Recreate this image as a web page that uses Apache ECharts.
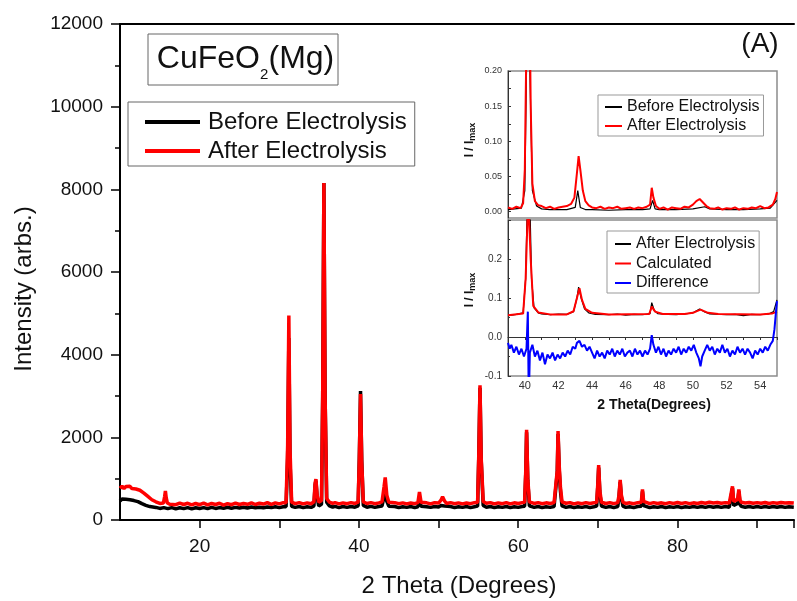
<!DOCTYPE html>
<html>
<head>
<meta charset="utf-8">
<script src="https://cdn.jsdelivr.net/npm/echarts@6/dist/echarts.min.js"></script>
<style>
  html, body { margin: 0; padding: 0; background: #fff; }
</style>
</head>
<body>
<div id="xrd" style="width:797px;height:601px;"></div>
<script>
  // main pattern, [2theta, counts]
  var beforeData = [
    [10,460],[10.25,510],[10.5,470],[10.75,500],[11,455],[11.25,490],[11.5,445],[11.75,470],[12,425],[12.25,445],
    [12.5,400],[12.75,395],[13,360],[13.25,355],[13.5,330],[13.75,325],[14,300],[14.5,305],[15,280],[15.5,300],
    [16,275],[16.5,300],[17,270],[17.5,295],[18,275],[18.5,300],[19,270],[19.5,295],[20,280],[20.5,300],
    [21,275],[21.5,305],[22,280],[22.5,300],[23,285],[23.5,310],[24,285],[24.5,305],[25,290],[25.5,310],
    [26,290],[26.5,315],[27,295],[27.5,310],[28,295],[28.5,315],[29,300],[29.5,320],[30,300],[30.5,320],
    [30.85,320],[31.05,1500],[31.2,4400],[31.35,1400],[31.55,330],[32,305],[32.5,325],[33,300],[33.5,320],[34,305],
    [34.35,340],[34.5,850],[34.6,950],[34.75,560],[34.95,340],[35.3,380],[35.45,3000],[35.6,8150],[35.75,3000],[35.95,430],
    [36.3,340],[36.7,310],[37,330],[37.5,300],[38,325],[38.5,305],[39,325],[39.5,310],[39.9,340],[40.05,1500],
    [40.2,3120],[40.35,1450],[40.55,350],[41,310],[41.5,330],[42,305],[42.5,325],[42.9,340],[43.15,560],[43.3,700],
    [43.5,450],[43.75,335],[44,305],[44.5,325],[45,300],[45.5,320],[46,305],[46.5,325],[47,300],[47.4,320],
    [47.6,520],[47.8,330],[48,300],[48.5,320],[49,305],[49.5,325],[50,315],[50.3,350],[50.5,390],[50.75,340],
    [51,305],[51.5,325],[52,300],[52.5,320],[53,305],[53.5,325],[54,300],[54.5,320],[54.9,335],[55.05,1550],
    [55.2,3200],[55.35,1450],[55.6,350],[56,310],[56.5,325],[57,300],[57.5,320],[58,305],[58.5,325],[59,300],
    [59.5,320],[60,305],[60.5,325],[60.8,335],[60.95,1150],[61.05,2120],[61.2,950],[61.4,340],[62,305],[62.5,325],
    [63,300],[63.5,320],[64,305],[64.5,325],[64.75,350],[64.9,1150],[65,2080],[65.15,1200],[65.3,700],[65.5,340],
    [66,305],[66.5,325],[67,300],[67.5,320],[68,305],[68.5,325],[69,300],[69.5,320],[69.85,335],[70,850],
    [70.1,1270],[70.25,650],[70.45,335],[71,305],[71.5,325],[72,300],[72.5,325],[72.65,550],[72.8,920],[72.95,550],
    [73.15,335],[73.5,305],[74,320],[74.5,300],[75,325],[75.45,335],[75.6,690],[75.75,350],[76,310],[76.5,300],
    [77,320],[77.5,305],[78,325],[78.5,300],[79,320],[79.5,305],[80,325],[80.5,300],[81,320],[81.5,305],
    [82,325],[82.5,305],[83,325],[83.5,305],[84,330],[84.5,310],[85,325],[85.5,305],[86,325],[86.5,310],
    [86.75,350],[86.9,770],[87.05,350],[87.3,380],[87.55,400],[87.7,690],[87.85,380],[88,330],[88.5,310],[89,325],
    [89.5,305],[90,325],[90.5,305],[91,325],[91.5,305],[92,325],[92.5,310],[93,325],[93.5,305],[94,320],[94.6,310]
  ];
  var afterData = [
    [10,770],[10.25,820],[10.5,760],[10.75,810],[11,775],[11.25,815],[11.5,760],[11.75,800],[12,750],[12.25,780],
    [12.5,720],[12.75,700],[13,650],[13.25,620],[13.5,570],[13.75,540],[14,490],[14.25,470],[14.5,440],[14.75,430],
    [15,400],[15.25,420],[15.45,410],[15.6,560],[15.7,700],[15.8,540],[15.95,410],[16.25,380],[16.5,420],[17,370],
    [17.5,410],[18,375],[18.5,405],[19,365],[19.5,400],[20,370],[20.5,410],[21,365],[21.5,400],[22,375],
    [22.5,405],[23,360],[23.5,395],[24,370],[24.5,410],[25,375],[25.5,400],[26,380],[26.5,415],[27,375],
    [27.5,405],[28,385],[28.5,420],[29,380],[29.5,415],[30,390],[30.5,420],[30.85,420],[31.05,1800],[31.2,4950],
    [31.35,1700],[31.55,430],[32,395],[32.5,420],[33,390],[33.5,415],[34,395],[34.35,440],[34.5,900],[34.6,990],
    [34.75,600],[34.95,430],[35.3,470],[35.45,3000],[35.6,8150],[35.75,3000],[35.95,520],[36.3,430],[36.7,400],[37,420],
    [37.5,390],[38,415],[38.5,395],[39,420],[39.5,400],[39.9,430],[40.05,1500],[40.2,3050],[40.35,1400],[40.55,440],
    [41,400],[41.5,420],[42,395],[42.5,415],[42.9,440],[43.15,800],[43.3,1030],[43.5,600],[43.75,430],[44,400],
    [44.5,420],[45,395],[45.5,415],[46,390],[46.5,410],[47,395],[47.4,420],[47.6,680],[47.8,430],[48,395],
    [48.5,415],[49,390],[49.5,420],[50,410],[50.3,480],[50.5,560],[50.75,460],[51,400],[51.5,420],[52,395],
    [52.5,415],[53,390],[53.5,410],[54,395],[54.5,420],[54.9,430],[55.05,1600],[55.2,3260],[55.35,1500],[55.6,450],
    [56,405],[56.5,420],[57,390],[57.5,415],[58,395],[58.5,420],[59,390],[59.5,415],[60,400],[60.5,420],
    [60.8,430],[60.95,1200],[61.05,2180],[61.2,1000],[61.4,440],[62,400],[62.5,420],[63,395],[63.5,415],[64,400],
    [64.5,420],[64.75,450],[64.9,1200],[65,2150],[65.15,1300],[65.3,800],[65.5,440],[66,405],[66.5,420],[67,390],
    [67.5,415],[68,395],[68.5,420],[69,400],[69.5,415],[69.85,430],[70,900],[70.1,1330],[70.25,700],[70.45,430],
    [71,400],[71.5,420],[72,395],[72.5,420],[72.65,600],[72.8,970],[72.95,600],[73.15,430],[73.5,400],[74,415],
    [74.5,395],[75,420],[75.45,430],[75.6,740],[75.75,450],[76,410],[76.5,395],[77,420],[77.5,400],[78,415],
    [78.5,395],[79,420],[79.5,400],[80,425],[80.5,400],[81,420],[81.5,395],[82,415],[82.5,400],[83,425],
    [83.5,405],[84,430],[84.5,410],[85,425],[85.5,405],[86,420],[86.5,410],[86.75,450],[86.9,815],[87.05,450],
    [87.3,480],[87.55,500],[87.7,740],[87.85,480],[88,430],[88.5,410],[89,425],[89.5,405],[90,420],[90.5,405],
    [91,425],[91.5,400],[92,420],[92.5,405],[93,425],[93.5,410],[94,420],[94.6,410]
  ];

  // inset, upper panel (normalised)
  var insetBefore = [
    [39,0.003],[39.4,0.004],[39.8,0.005],[40,0.03],[40.1,0.2],[40.2,0.38],[40.3,0.2],[40.45,0.03],
    [40.7,0.008],[41,0.004],[41.5,0.003],[42,0.003],[42.5,0.003],[43,0.006],[43.15,0.03],[43.3,0.006],
    [43.6,0.003],[44,0.003],[45,0.002],[46,0.003],[47,0.003],[47.45,0.004],[47.6,0.016],[47.75,0.004],
    [48,0.003],[49,0.003],[50,0.004],[50.7,0.007],[51,0.004],[52,0.003],[53,0.003],[54,0.004],
    [54.6,0.005],[55,0.016]
  ];
  var insetAfter = [
    [39,0.006],[39.25,0.004],[39.5,0.007],[39.75,0.005],[39.9,0.012],[40,0.06],[40.1,0.25],[40.25,0.38],
    [40.35,0.15],[40.45,0.04],[40.6,0.015],[40.8,0.009],[41,0.008],[41.25,0.005],[41.5,0.007],[41.75,0.004],
    [42,0.006],[42.25,0.007],[42.5,0.008],[42.75,0.011],[42.95,0.02],[43.1,0.055],[43.2,0.079],[43.3,0.06],
    [43.45,0.03],[43.6,0.015],[43.8,0.009],[44,0.006],[44.25,0.005],[44.5,0.007],[44.75,0.004],[45,0.006],
    [45.25,0.005],[45.5,0.007],[45.75,0.004],[46,0.005],[46.25,0.006],[46.5,0.004],[46.75,0.006],[47,0.005],
    [47.25,0.007],[47.45,0.01],[47.55,0.034],[47.65,0.02],[47.8,0.008],[48,0.004],[48.25,0.006],[48.5,0.003],
    [48.75,0.006],[49,0.005],[49.25,0.004],[49.5,0.007],[49.75,0.006],[50,0.01],[50.2,0.015],[50.4,0.018],
    [50.6,0.013],[50.8,0.008],[51,0.005],[51.25,0.004],[51.5,0.006],[51.75,0.003],[52,0.005],[52.25,0.004],
    [52.5,0.006],[52.75,0.003],[53,0.005],[53.25,0.004],[53.5,0.006],[53.75,0.005],[54,0.008],[54.25,0.005],
    [54.5,0.006],[54.75,0.01],[54.9,0.018],[55,0.028]
  ];

  // inset, lower panel (refinement)
  var refObserved = [
    [39,0.055],[39.5,0.058],[39.9,0.062],[40.05,0.15],[40.15,0.35],[40.3,0.35],[40.4,0.15],[40.55,0.075],
    [40.8,0.062],[41,0.059],[41.5,0.057],[42,0.059],[42.5,0.058],[42.9,0.065],[43.1,0.1],[43.2,0.128],
    [43.35,0.1],[43.55,0.072],[43.8,0.062],[44.2,0.058],[45,0.057],[45.5,0.059],[46,0.056],[46.5,0.058],
    [47,0.057],[47.45,0.06],[47.55,0.088],[47.7,0.068],[47.9,0.06],[48.5,0.058],[49,0.057],[49.5,0.059],
    [50,0.062],[50.4,0.072],[50.7,0.064],[51,0.059],[52,0.057],[52.5,0.058],[53,0.055],[53.5,0.058],
    [54,0.057],[54.5,0.059],[54.8,0.065],[55,0.095]
  ];
  var refCalculated = [
    [39,0.056],[39.9,0.06],[40.05,0.15],[40.2,0.36],[40.35,0.2],[40.5,0.08],[40.8,0.063],[41.5,0.058],
    [42.5,0.058],[42.9,0.066],[43.1,0.1],[43.25,0.125],[43.4,0.095],[43.6,0.072],[44,0.062],[45,0.058],
    [47.4,0.059],[47.55,0.078],[47.75,0.065],[48.2,0.059],[49.5,0.059],[50,0.062],[50.45,0.07],[50.9,0.062],
    [51.5,0.059],[54,0.058],[54.7,0.06],[55,0.065]
  ];
  var refDifference = [
    [39,-0.015],[39.1,-0.03],[39.2,-0.02],[39.35,-0.04],[39.5,-0.025],[39.65,-0.045],[39.8,-0.03],[39.95,-0.05],
    [40.1,-0.03],[40.18,0.065],[40.22,-0.1],[40.26,-0.12],[40.3,-0.04],[40.45,-0.02],[40.6,-0.05],[40.75,-0.035],
    [40.9,-0.06],[41.05,-0.04],[41.2,-0.07],[41.35,-0.045],[41.5,-0.055],[41.65,-0.04],[41.8,-0.06],[41.95,-0.045],
    [42.1,-0.055],[42.25,-0.04],[42.4,-0.05],[42.55,-0.035],[42.7,-0.045],[42.85,-0.025],[43,-0.03],[43.1,-0.015],
    [43.25,-0.01],[43.4,-0.025],[43.55,-0.02],[43.7,-0.035],[43.85,-0.025],[44,-0.04],[44.15,-0.055],[44.3,-0.035],
    [44.45,-0.05],[44.6,-0.04],[44.75,-0.055],[44.9,-0.035],[45.05,-0.045],[45.2,-0.03],[45.35,-0.05],[45.5,-0.035],
    [45.65,-0.045],[45.8,-0.03],[45.95,-0.05],[46.1,-0.04],[46.25,-0.035],[46.4,-0.05],[46.55,-0.03],[46.7,-0.045],
    [46.85,-0.035],[47,-0.05],[47.15,-0.035],[47.3,-0.045],[47.45,-0.03],[47.55,0.005],[47.65,-0.02],[47.8,-0.04],
    [47.95,-0.025],[48.1,-0.045],[48.25,-0.03],[48.4,-0.05],[48.55,-0.035],[48.7,-0.045],[48.85,-0.03],[49,-0.04],
    [49.15,-0.025],[49.3,-0.045],[49.45,-0.03],[49.6,-0.04],[49.75,-0.025],[49.9,-0.035],[50.05,-0.02],[50.2,-0.04],
    [50.35,-0.055],[50.45,-0.075],[50.55,-0.05],[50.7,-0.035],[50.85,-0.02],[51,-0.035],[51.15,-0.025],[51.3,-0.045],
    [51.45,-0.03],[51.6,-0.04],[51.75,-0.02],[51.9,-0.04],[52.05,-0.03],[52.2,-0.05],[52.35,-0.035],[52.5,-0.045],
    [52.65,-0.025],[52.8,-0.04],[52.95,-0.03],[53.1,-0.045],[53.25,-0.03],[53.4,-0.04],[53.55,-0.055],[53.7,-0.035],
    [53.85,-0.045],[54,-0.03],[54.15,-0.04],[54.3,-0.025],[54.45,-0.035],[54.6,-0.02],[54.75,-0.01],[54.85,0.02],
    [54.95,0.07],[55,0.092]
  ];

  var upperTicks = [0, 0.025, 0.05, 0.075, 0.1, 0.125, 0.15, 0.175, 0.2];
  var upperLabels = [0, 0.05, 0.1, 0.15, 0.2];

  var FONT = '"Liberation Sans", Arial, sans-serif';

  var chart = echarts.init(document.getElementById('xrd'));
  var option = {
    animation: false,
    backgroundColor: '#fff',
    textStyle: { fontFamily: FONT },
    grid: [
      { left: 120, top: 24, right: 0, bottom: 81 },
      { left: 508, top: 71, right: 20, bottom: 383, show: true, borderColor: '#8c8c8c', borderWidth: 1.5, backgroundColor: '#fff' },
      { left: 508, top: 220, right: 20, bottom: 225, show: true, borderColor: '#8c8c8c', borderWidth: 1.5, backgroundColor: '#fff' }
    ],
    xAxis: [
      {
        gridIndex: 0, type: 'value', min: 10, max: 94.625, interval: 10,
        axisLine: { lineStyle: { color: '#000', width: 2 } },
        axisTick: { length: 8, lineStyle: { color: '#000', width: 1.5 } },
        axisLabel: {
          fontSize: 19, color: '#111', margin: 17, showMinLabel: false,
          formatter: function (v) { return v % 20 === 0 ? String(v) : ''; }
        },
        splitLine: { show: false }
      },
      {
        gridIndex: 0, type: 'value', position: 'top', min: 10, max: 94.625,
        axisLine: { show: true, lineStyle: { color: '#000', width: 2 } },
        axisTick: { show: false }, axisLabel: { show: false }, splitLine: { show: false }
      },
      {
        gridIndex: 1, type: 'value', min: 39, max: 55,
        axisLine: { show: false }, axisTick: { show: false }, axisLabel: { show: false }, splitLine: { show: false }
      },
      {
        gridIndex: 2, type: 'value', min: 39, max: 55, interval: 1,
        axisLine: { lineStyle: { color: '#333', width: 1 } },
        axisTick: { length: 3, lineStyle: { color: '#333' } },
        axisLabel: {
          fontSize: 11, color: '#333', margin: 4,
          formatter: function (v) { return v % 2 === 0 ? String(v) : ''; }
        },
        splitLine: { show: false }
      }
    ],
    yAxis: [
      {
        gridIndex: 0, type: 'value', min: 0, max: 12000, interval: 2000,
        axisLine: { show: true, lineStyle: { color: '#000', width: 2 } },
        axisTick: { show: true, length: 9, lineStyle: { color: '#000', width: 1.5 } },
        minorTick: { show: true, splitNumber: 2, length: 5, lineStyle: { color: '#000', width: 1.5 } },
        axisLabel: { fontSize: 19, color: '#111', margin: 17, formatter: function (v) { return String(v); } },
        splitLine: { show: false }
      },
      {
        gridIndex: 1, type: 'value', min: -0.009, max: 0.2,
        axisLine: { show: true, lineStyle: { color: '#333', width: 1 } },
        axisTick: { show: true, inside: true, length: 3, customValues: upperTicks, lineStyle: { color: '#333' } },
        axisLabel: {
          fontSize: 9, color: '#333', margin: 6, customValues: upperLabels,
          formatter: function (v) { return v.toFixed(2); }
        },
        splitLine: { show: false }
      },
      {
        gridIndex: 2, type: 'value', min: -0.1, max: 0.3, interval: 0.1,
        axisLine: { show: true, lineStyle: { color: '#333', width: 1 } },
        axisTick: { show: true, inside: true, length: 3, lineStyle: { color: '#333' } },
        minorTick: { show: true, splitNumber: 2, length: 2, lineStyle: { color: '#333' } },
        axisLabel: {
          fontSize: 10, color: '#333', margin: 6, showMaxLabel: false,
          formatter: function (v) { return v.toFixed(1); }
        },
        splitLine: { show: false }
      }
    ],
    legend: [
      {
        left: 128, top: 102, orient: 'vertical', icon: 'rect',
        itemWidth: 55, itemHeight: 4, itemGap: 5,
        padding: [8, 8, 3, 17],
        borderColor: '#666', borderWidth: 1, backgroundColor: '#fff',
        textStyle: { fontSize: 24, color: '#111', fontFamily: FONT, padding: [0, 0, 0, 3] },
        data: [
          { name: 'Before Electrolysis', itemStyle: { color: '#000' } },
          { name: 'After Electrolysis', itemStyle: { color: '#f00' } }
        ],
        selectedMode: false
      },
      {
        left: 598, top: 95, orient: 'vertical', icon: 'rect',
        itemWidth: 17, itemHeight: 2, itemGap: 3,
        padding: [4, 4, 2, 7],
        borderColor: '#999', borderWidth: 1, backgroundColor: '#fff',
        textStyle: { fontSize: 16, color: '#111', fontFamily: FONT },
        data: [
          { name: 'Before Electrolysis', itemStyle: { color: '#000' } },
          { name: 'After Electrolysis', itemStyle: { color: '#f00' } }
        ],
        selectedMode: false
      },
      {
        left: 607, top: 231, orient: 'vertical', icon: 'rect',
        itemWidth: 16, itemHeight: 2, itemGap: 3.5,
        padding: [5, 4, 2, 8],
        borderColor: '#999', borderWidth: 1, backgroundColor: '#fff',
        textStyle: { fontSize: 16, color: '#111', fontFamily: FONT },
        data: [
          { name: 'After Electrolysis', itemStyle: { color: '#000' } },
          { name: 'Calculated', itemStyle: { color: '#f00' } },
          { name: 'Difference', itemStyle: { color: '#00f' } }
        ],
        selectedMode: false
      }
    ],
    series: [
      { name: 'Before Electrolysis', type: 'line', xAxisIndex: 0, yAxisIndex: 0, data: beforeData,
        showSymbol: false, symbol: 'none', lineStyle: { color: '#000', width: 3.5 }, itemStyle: { color: '#000' } },
      { name: 'After Electrolysis', type: 'line', xAxisIndex: 0, yAxisIndex: 0, data: afterData,
        showSymbol: false, symbol: 'none', lineStyle: { color: '#f00', width: 3.5 }, itemStyle: { color: '#f00' } },
      { name: 'Before Electrolysis', type: 'line', xAxisIndex: 2, yAxisIndex: 1, data: insetBefore,
        showSymbol: false, symbol: 'none', lineStyle: { color: '#000', width: 1.2 }, itemStyle: { color: '#000' } },
      { name: 'After Electrolysis', type: 'line', xAxisIndex: 2, yAxisIndex: 1, data: insetAfter,
        showSymbol: false, symbol: 'none', lineStyle: { color: '#f00', width: 2 }, itemStyle: { color: '#f00' } },
      { name: 'After Electrolysis', type: 'line', xAxisIndex: 3, yAxisIndex: 2, data: refObserved,
        showSymbol: false, symbol: 'none', lineStyle: { color: '#000', width: 1.2 }, itemStyle: { color: '#000' } },
      { name: 'Calculated', type: 'line', xAxisIndex: 3, yAxisIndex: 2, data: refCalculated,
        showSymbol: false, symbol: 'none', lineStyle: { color: '#f00', width: 2 }, itemStyle: { color: '#f00' } },
      { name: 'Difference', type: 'line', xAxisIndex: 3, yAxisIndex: 2, data: refDifference,
        showSymbol: false, symbol: 'none', lineStyle: { color: '#00f', width: 2 }, itemStyle: { color: '#00f' } }
    ],
    graphic: [
      { type: 'rect', shape: { x: 148, y: 34, width: 190, height: 51 },
        style: { fill: '#fff', stroke: '#666', lineWidth: 1 } },
      { type: 'text', x: 260, y: 59,
        style: { text: 'CuFeO', font: '32px ' + FONT, fill: '#111', align: 'right', verticalAlign: 'middle' } },
      { type: 'text', x: 260, y: 75,
        style: { text: '2', font: '15px ' + FONT, fill: '#111', align: 'left', verticalAlign: 'middle' } },
      { type: 'text', x: 268.5, y: 59,
        style: { text: '(Mg)', font: '32px ' + FONT, fill: '#111', align: 'left', verticalAlign: 'middle' } },
      { type: 'text', x: 760, y: 44,
        style: { text: '(A)', font: '28px ' + FONT, fill: '#111', align: 'center', verticalAlign: 'middle' } },
      { type: 'text', x: 459, y: 586,
        style: { text: '2 Theta (Degrees)', font: '24px ' + FONT, fill: '#111', align: 'center', verticalAlign: 'middle' } },
      { type: 'text', x: 24, y: 289, rotation: Math.PI / 2,
        style: { text: 'Intensity (arbs.)', font: '24px ' + FONT, fill: '#111', align: 'center', verticalAlign: 'middle' } },
      { type: 'text', x: 654, y: 405,
        style: { text: '2 Theta(Degrees)', font: 'bold 14px ' + FONT, fill: '#111', align: 'center', verticalAlign: 'middle' } },
      { type: 'text', x: 470, y: 140, rotation: Math.PI / 2,
        style: {
          text: '{b|I / I}{m|max}', align: 'center', verticalAlign: 'middle',
          rich: {
            b: { fontSize: 12, fontWeight: 'bold', fontFamily: FONT, fill: '#111', lineHeight: 14 },
            m: { fontSize: 9, fontWeight: 'bold', fontFamily: FONT, fill: '#111', verticalAlign: 'bottom', lineHeight: 8 }
          }
        } },
      { type: 'text', x: 470, y: 290, rotation: Math.PI / 2,
        style: {
          text: '{b|I / I}{m|max}', align: 'center', verticalAlign: 'middle',
          rich: {
            b: { fontSize: 12, fontWeight: 'bold', fontFamily: FONT, fill: '#111', lineHeight: 14 },
            m: { fontSize: 9, fontWeight: 'bold', fontFamily: FONT, fill: '#111', verticalAlign: 'bottom', lineHeight: 8 }
          }
        } }
    ]
  };
  chart.setOption(option);
</script>
</body>
</html>
